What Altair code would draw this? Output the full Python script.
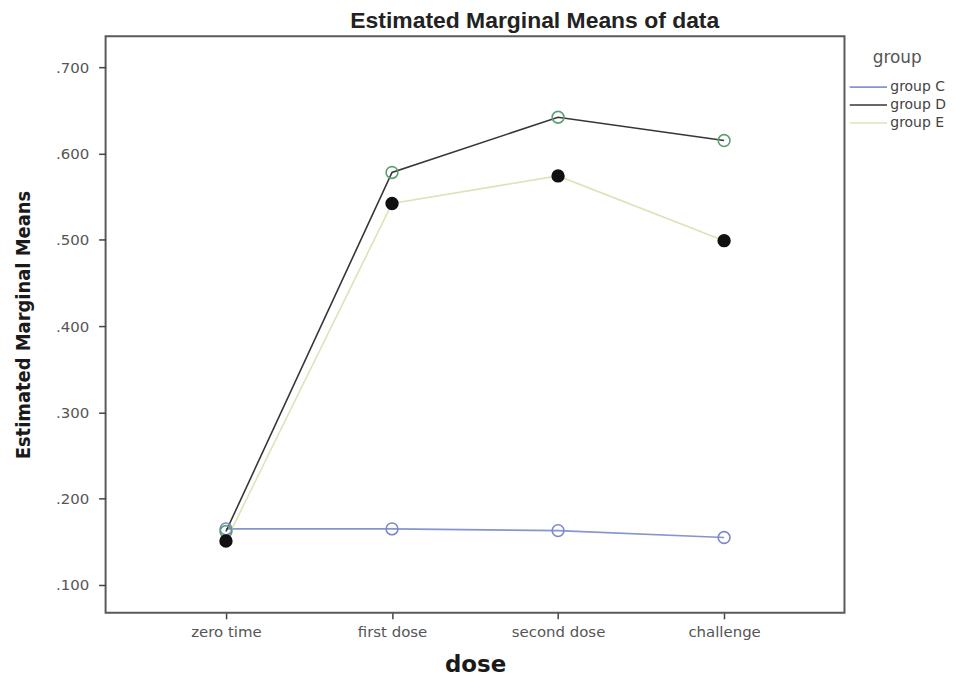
import altair as alt
import pandas as pd

doses = ["zero time", "first dose", "second dose", "challenge"]
groups = ["group C", "group D", "group E"]
group_c = [0.165, 0.165, 0.163, 0.155]
group_d = [0.162, 0.578, 0.642, 0.615]
group_e = [0.151, 0.542, 0.574, 0.499]

line_colors = {"group C": "#8595cf", "group D": "#363636", "group E": "#dfe2b6"}
marker_stroke = {"group C": "#7d89c6", "group D": "#5b9f72", "group E": "#111111"}
marker_fill = {"group C": "transparent", "group D": "transparent", "group E": "#111111"}

rows = []
for g, vals in zip(groups, [group_c, group_d, group_e]):
    for i, (d, v) in enumerate(zip(doses, vals)):
        rows.append({"dose": d, "idx": i, "group": g, "value": v,
                     "ms": marker_stroke[g], "mf": marker_fill[g]})
df = pd.DataFrame(rows)

x_enc = alt.X("dose:N", sort=doses, scale=alt.Scale(type="point", padding=0.725),
              axis=alt.Axis(title="dose", titleFont="DejaVu Sans", titleFontSize=23,
                            titleFontWeight="bold", titleColor="#1a1a1a", titlePadding=14,
                            labelFont="DejaVu Sans", labelFontSize=15, labelColor="#555555",
                            labelAngle=0, labelPadding=6, tickSize=6, tickColor="#444444",
                            tickWidth=1.5, domain=False, grid=False))
y_enc = alt.Y("value:Q", scale=alt.Scale(domain=[0.0677, 0.7358], nice=False, zero=False),
              axis=alt.Axis(title="Estimated Marginal Means", values=[0.1, 0.2, 0.3, 0.4, 0.5, 0.6, 0.7],
                            labelExpr="substring(format(datum.value, '.3f'), 1)",
                            titleFont="DejaVu Sans Condensed, Liberation Sans", titleFontSize=20,
                            titleFontWeight="bold", titleColor="#1a1a1a", titlePadding=22,
                            labelFont="DejaVu Sans", labelFontSize=15, labelColor="#555555",
                            labelPadding=10, tickSize=7, tickColor="#444444", tickWidth=1.5,
                            domain=False, grid=False))

lines = alt.Chart(df).mark_line(strokeWidth=1.6).encode(
    x=x_enc, y=y_enc,
    color=alt.Color("group:N", scale=alt.Scale(domain=groups, range=[line_colors[g] for g in groups]),
                    legend=alt.Legend(title="group", orient="none", legendX=746, legendY=14,
                                      titleFont="DejaVu Sans", titleFontSize=17, titleFontWeight="normal",
                                      titleColor="#555555", titlePadding=12, titleAnchor="middle",
                                      labelFont="DejaVu Sans", labelFontSize=14, labelColor="#444444",
                                      symbolType="stroke", symbolSize=1400, symbolStrokeWidth=1.6,
                                      clipHeight=16, rowPadding=2, labelOffset=2)),
    order=alt.Order("idx:Q"),
)

points = alt.Chart(df).mark_point(shape="circle", size=140, strokeWidth=1.6, opacity=1).encode(
    x=x_enc, y=y_enc,
    stroke=alt.Stroke("ms:N", scale=None),
    fill=alt.Fill("mf:N", scale=None),
)

chart = alt.layer(lines, points).properties(
    width=742, height=579,
    title=alt.TitleParams("Estimated Marginal Means of data", font="Liberation Sans", fontSize=23,
                          fontWeight="bold", color="#222222", anchor="middle", dx=60, offset=3),
    autosize=alt.AutoSizeParams(type="none"),
    padding={"left": 98, "top": 27, "right": 115, "bottom": 66},
).configure(background="white", view=alt.ViewConfig(stroke="#5a5a5a", strokeWidth=2))

chart.save("out.html", embed_options={"renderer": "svg", "actions": False})
